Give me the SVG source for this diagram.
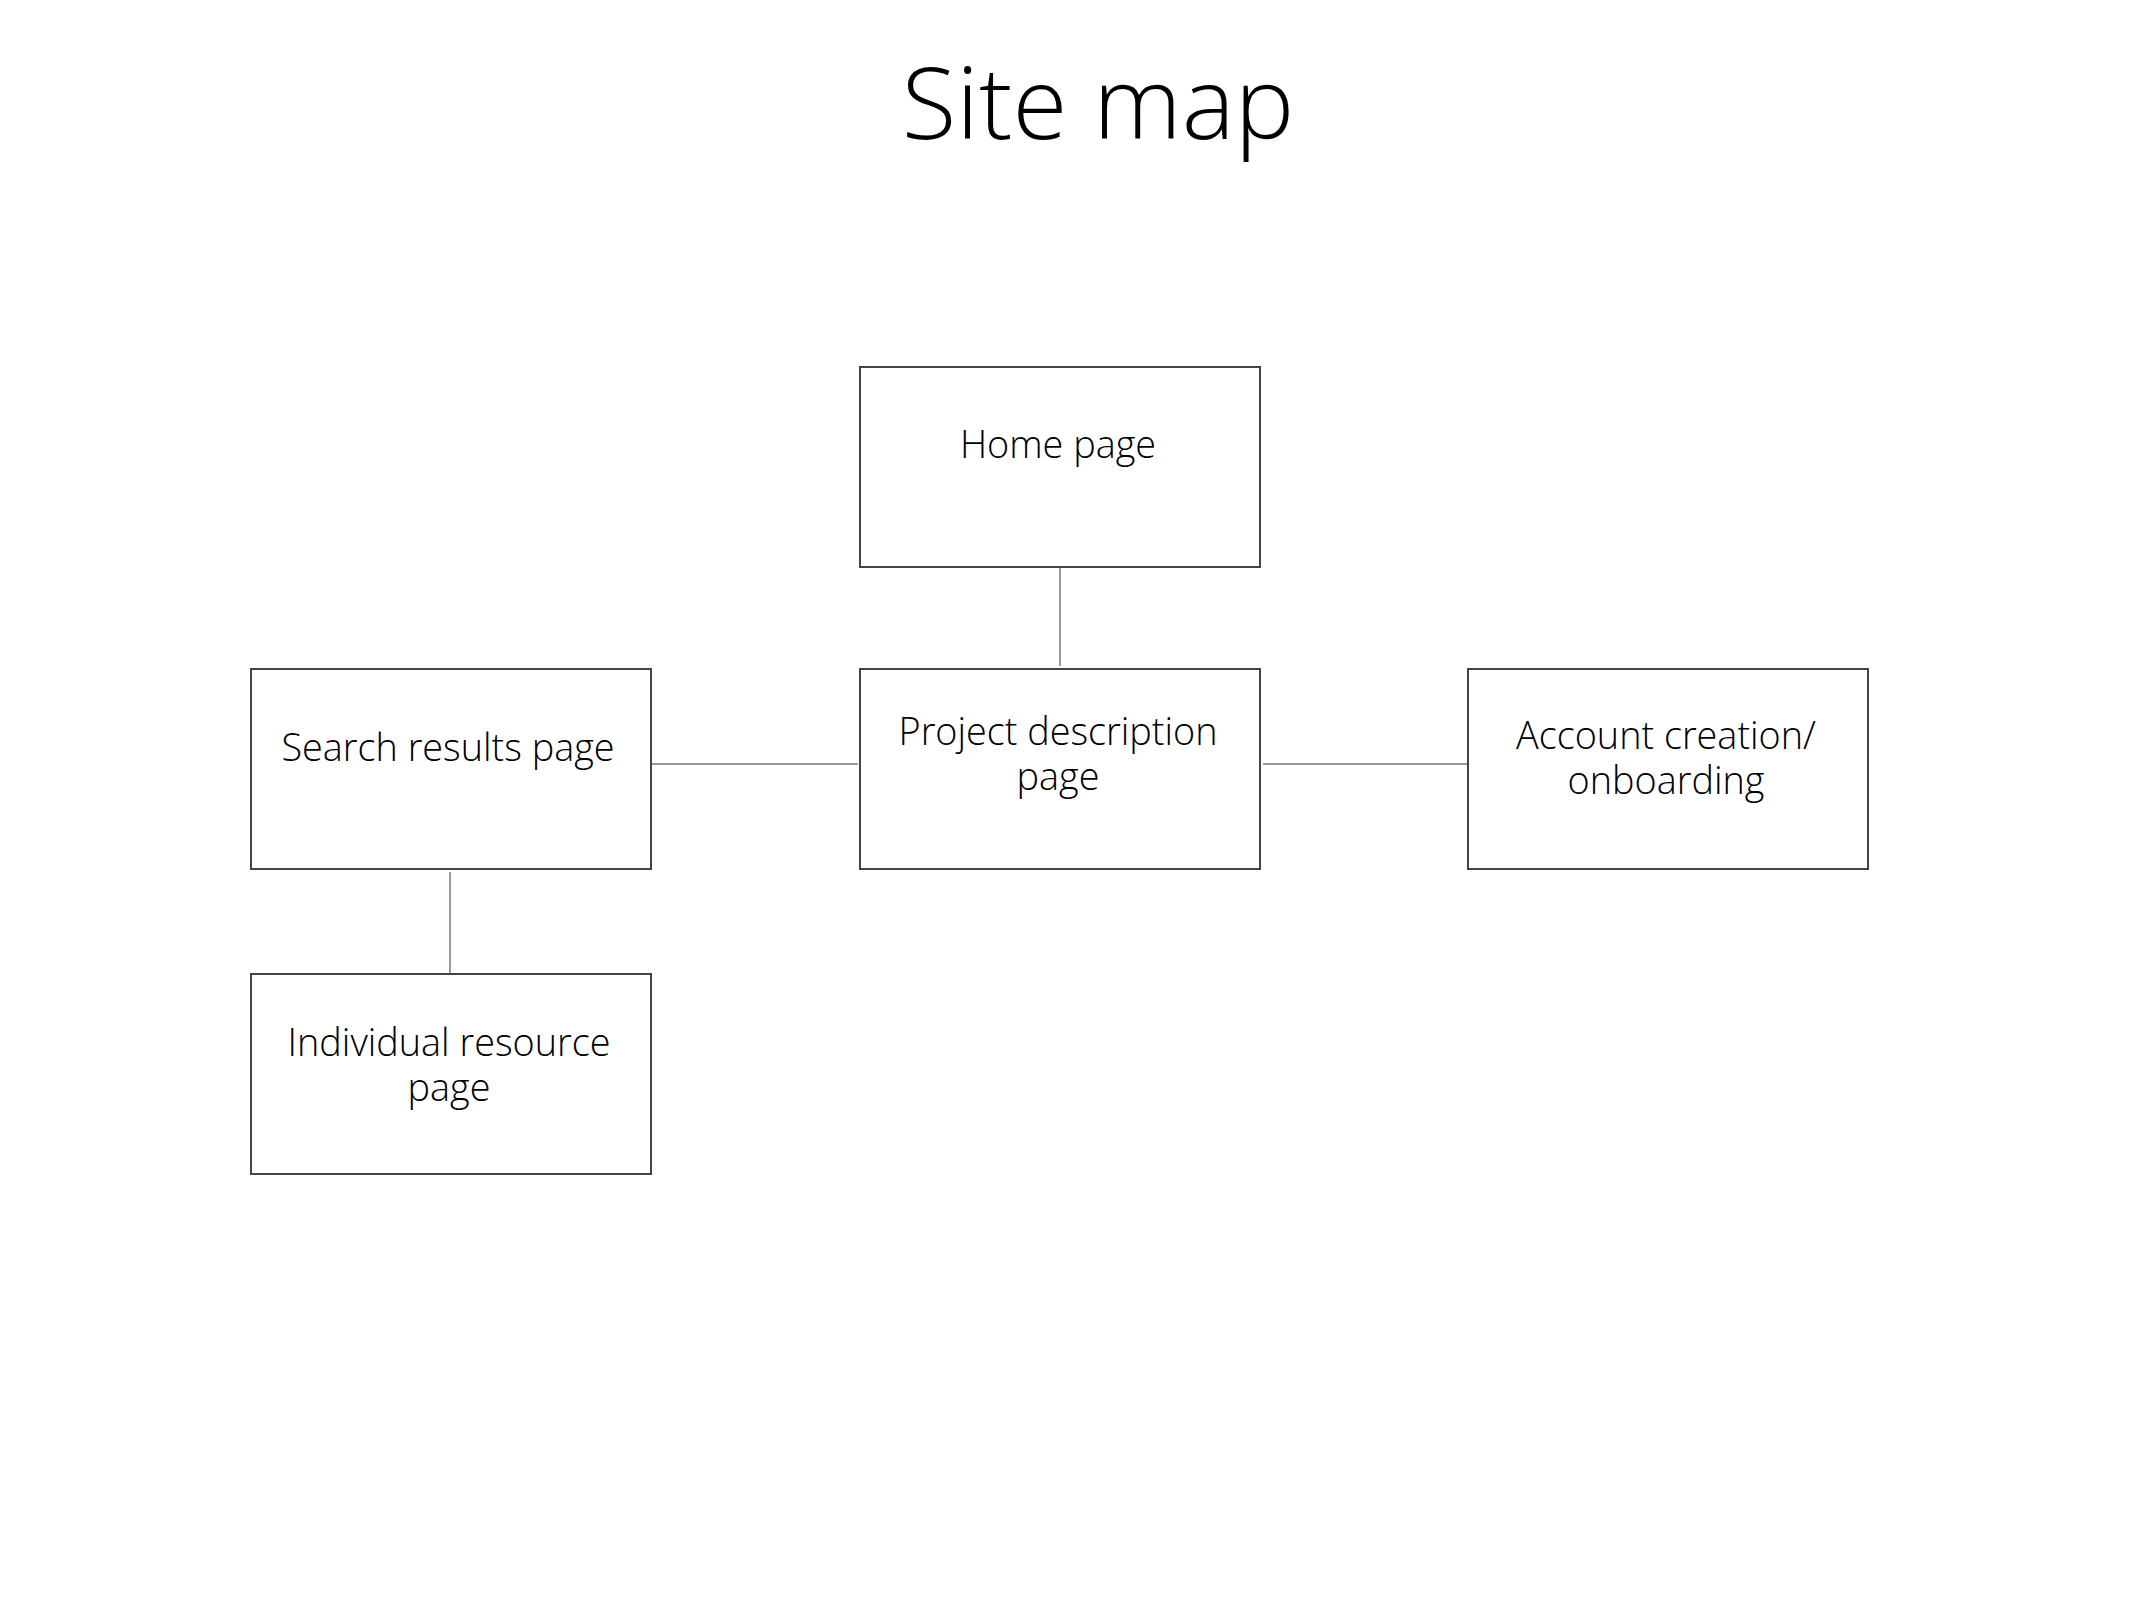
<svg xmlns="http://www.w3.org/2000/svg" width="2133" height="1600" viewBox="0 0 2133 1600">
<style>
.box{fill:#fff;stroke:#444;stroke-width:2}
.lbl{font-family:"Open Sans","Liberation Sans",sans-serif;font-weight:300;font-size:37.8px;fill:#000;text-anchor:middle}
.title{font-family:"Open Sans","Liberation Sans",sans-serif;font-weight:300;font-size:100px;fill:#000;text-anchor:middle}
.conn{stroke:#999;stroke-width:2;fill:none}
</style>
<rect width="2133" height="1600" fill="#fff"/>
<text class="title" x="1098" y="139">Site map</text>
<g id="connectors">
<line class="conn" x1="1060" y1="565" x2="1060" y2="666"/>
<line class="conn" x1="652" y1="764" x2="858" y2="764"/>
<line class="conn" x1="1263" y1="764" x2="1472" y2="764"/>
<line class="conn" x1="450" y1="872" x2="450" y2="974"/>
</g>
<g id="home"><rect class="box" x="860" y="367" width="400" height="200"/><text class="lbl" x="1058" y="458">Home page</text></g>
<g id="search"><rect class="box" x="251" y="669" width="400" height="200"/><text class="lbl" x="448" y="761">Search results page</text></g>
<g id="project"><rect class="box" x="860" y="669" width="400" height="200"/><text class="lbl" x="1058" y="745">Project description</text><text class="lbl" x="1058" y="790">page</text></g>
<g id="account"><rect class="box" x="1468" y="669" width="400" height="200"/><text class="lbl" x="1666" y="749">Account creation/</text><text class="lbl" x="1666" y="794">onboarding</text></g>
<g id="individual"><rect class="box" x="251" y="974" width="400" height="200"/><text class="lbl" x="449" y="1056">Individual resource</text><text class="lbl" x="449" y="1101">page</text></g>
</svg>
